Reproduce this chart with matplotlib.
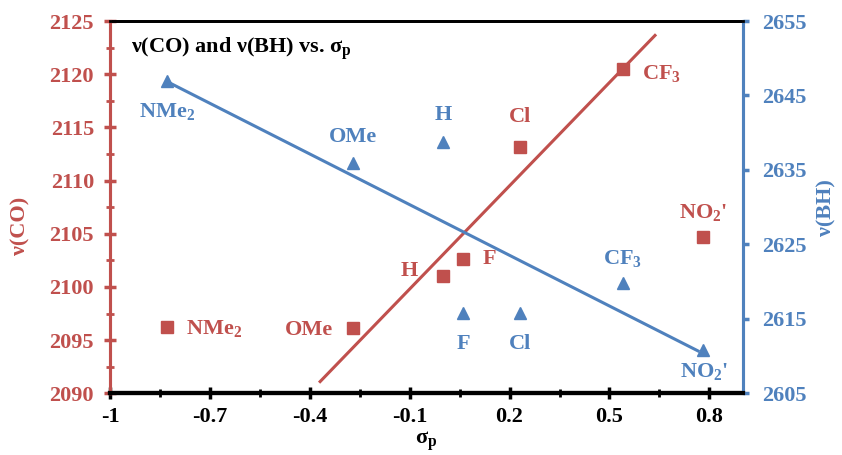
import matplotlib
matplotlib.use("Agg")
import matplotlib.pyplot as plt
from matplotlib.ticker import MultipleLocator, FixedLocator

plt.rcParams['font.family'] = ['Liberation Serif', 'DejaVu Serif']
plt.rcParams['font.weight'] = 'bold'
plt.rcParams['mathtext.fontset'] = 'custom'
plt.rcParams['mathtext.rm'] = 'Liberation Serif:bold'
plt.rcParams['mathtext.it'] = 'Liberation Serif:bold'
plt.rcParams['mathtext.bf'] = 'Liberation Serif:bold'

RED = '#C0504D'
BLUE = '#4F81BD'
FS = 16

# data
substituents = ['NMe$_2$', 'OMe', 'H', 'F', 'Cl', 'CF$_3$', "NO$_2$'"]
sigma_p = [-0.83, -0.27, 0.00, 0.06, 0.23, 0.54, 0.78]
nu_co = [2096.2, 2096.1, 2101.0, 2102.6, 2113.2, 2120.5, 2104.7]
nu_bh = [2646.9, 2635.9, 2638.8, 2615.8, 2615.8, 2619.8, 2610.8]

co_fit_x = [-0.372, 0.640]
co_fit_y = [2091.0, 2123.75]
bh_fit_x = [-0.83, 0.77]
bh_fit_y = [2646.9, 2610.6]

x_ticks = [-1, -0.7, -0.4, -0.1, 0.2, 0.5, 0.8]
x_ticklabels = ['-1', '-0.7', '-0.4', '-0.1', '0.2', '0.5', '0.8']
co_ticks = [2090, 2095, 2100, 2105, 2110, 2115, 2120, 2125]
bh_ticks = [2605, 2615, 2625, 2635, 2645, 2655]

# label offsets in points (dx, dy, ha, va)
co_lbl = [(14, -1, 'left', 'center'), (-14, -1, 'right', 'center'),
          (-18, 4, 'right', 'center'), (14, 0, 'left', 'center'),
          (0, 14, 'center', 'bottom'), (14, -3, 'left', 'center'),
          (0, 10, 'center', 'bottom')]
bh_lbl = [(0, -14, 'center', 'top'), (0, 12, 'center', 'bottom'),
          (0, 12, 'center', 'bottom'), (0, -15, 'center', 'top'),
          (0, -15, 'center', 'top'), (0, 10, 'center', 'bottom'),
          (1, -8, 'center', 'top')]

fig = plt.figure(figsize=(8.42, 4.55), dpi=100)
ax = fig.add_axes([0.1306, 0.1356, 0.7514, 0.8182])
ax2 = ax.twinx()

ax.set_xlim(-1, 0.9)
ax.set_ylim(2090, 2125)
ax2.set_ylim(2605, 2655)

ax.plot(co_fit_x, co_fit_y, color=RED, lw=2.2, solid_capstyle='butt', zorder=2)
ax.plot(sigma_p, nu_co, 's', color=RED, ms=9, zorder=3)
ax2.plot(bh_fit_x, bh_fit_y, color=BLUE, lw=2.2, solid_capstyle='butt', zorder=2)
ax2.plot(sigma_p, nu_bh, '^', color=BLUE, ms=9, zorder=3)

for s, x, y, (dx, dy, ha, va) in zip(substituents, sigma_p, nu_co, co_lbl):
    ax.annotate(s, (x, y), xytext=(dx, dy), textcoords='offset points',
                ha=ha, va=va, color=RED, fontsize=FS, fontweight='bold')
for s, x, y, (dx, dy, ha, va) in zip(substituents, sigma_p, nu_bh, bh_lbl):
    ax2.annotate(s, (x, y), xytext=(dx, dy), textcoords='offset points',
                 ha=ha, va=va, color=BLUE, fontsize=FS, fontweight='bold')

# spines
for a in (ax, ax2):
    a.spines['top'].set_color('black')
    a.spines['top'].set_linewidth(2)
    a.spines['bottom'].set_color('black')
    a.spines['bottom'].set_linewidth(3)
    a.spines['left'].set_color(RED)
    a.spines['left'].set_linewidth(2.2)
    a.spines['right'].set_color(BLUE)
    a.spines['right'].set_linewidth(2.2)
ax2.spines['bottom'].set_zorder(5)

ax.xaxis.set_major_locator(FixedLocator(x_ticks))
ax.set_xticklabels(x_ticklabels)
ax.xaxis.set_minor_locator(FixedLocator([t + 0.15 for t in x_ticks]))
ax.tick_params(axis='x', which='major', direction='inout', length=8, width=2.5,
               color='black', labelsize=FS, pad=6)
ax.tick_params(axis='x', which='minor', direction='inout', length=6, width=2,
               color='black')

ax.yaxis.set_major_locator(FixedLocator(co_ticks))
ax.yaxis.set_minor_locator(MultipleLocator(2.5))
ax.tick_params(axis='y', which='major', direction='inout', length=9, width=2.5,
               color=RED, labelcolor=RED, labelsize=FS, pad=7)
ax.tick_params(axis='y', which='minor', direction='inout', length=6, width=2,
               color=RED)

ax2.yaxis.set_major_locator(FixedLocator(bh_ticks))
ax2.tick_params(axis='y', which='major', direction='out', length=4, width=2.5,
                color=BLUE, labelcolor=BLUE, labelsize=FS, pad=10)

for lbl in ax.get_xticklabels() + ax.get_yticklabels() + ax2.get_yticklabels():
    lbl.set_fontweight('bold')

ax.text(-0.142, 0.45, 'ν(CO)', transform=ax.transAxes, rotation=90,
        color=RED, fontsize=FS, fontweight='bold', ha='center', va='center')
ax2.text(1.133, 0.5, 'ν(BH)', transform=ax2.transAxes, rotation=90,
         color=BLUE, fontsize=FS, fontweight='bold', ha='center', va='center')
ax.text(0.5, -0.128, 'σ$_p$', transform=ax.transAxes,
        fontsize=FS, fontweight='bold', ha='center', va='center')

ax.text(0.033, 0.925, 'ν(CO) and ν(BH) vs. σ$_p$', transform=ax.transAxes,
        fontsize=FS, fontweight='bold', color='black', ha='left', va='center')

fig.savefig('out.png', dpi=100)
